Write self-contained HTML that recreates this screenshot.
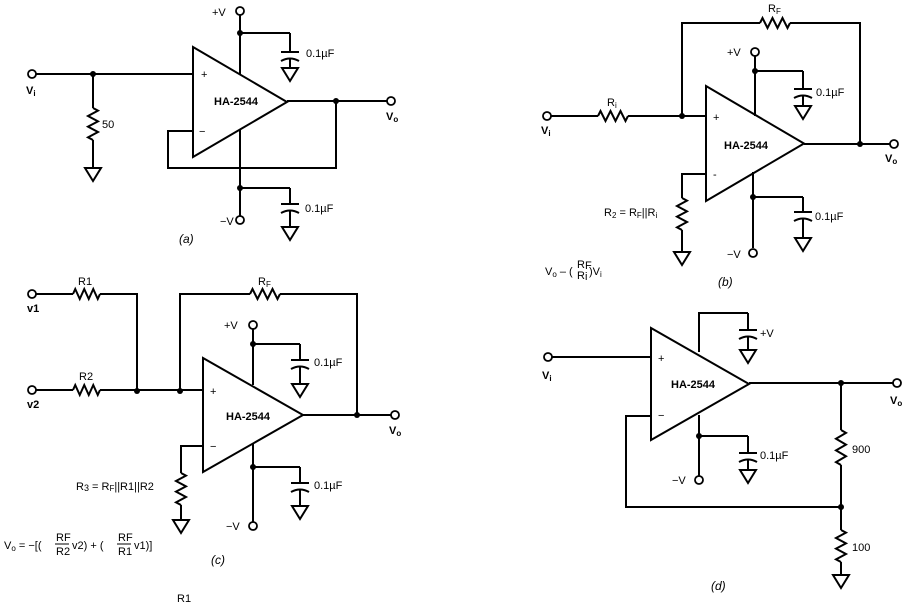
<!DOCTYPE html>
<html><head><meta charset="utf-8"><style>
html,body{margin:0;padding:0;background:#fff;}
svg{display:block;}
text{font-family:"Liberation Sans",sans-serif;font-size:11px;fill:#000;}
.b{font-weight:bold;}
.i{font-style:italic;font-size:12px;}
</style></head><body>
<svg id="s" width="914" height="610" viewBox="0 0 914 610" xmlns="http://www.w3.org/2000/svg">
<g id="g" fill="none" stroke="#000" stroke-width="2"></g>
<g>
<!-- (a) -->
<text x="26" y="94" class="b">V<tspan font-size="8" dy="2">i</tspan></text>
<text x="102" y="128">50</text>
<text x="201" y="78" font-size="10">+</text>
<text x="199" y="135" font-size="11">−</text>
<text x="214" y="105" class="b" font-size="10">HA-2544</text>
<text x="212" y="16">+V</text>
<text x="306" y="57">0.1µF</text>
<text x="305" y="212">0.1µF</text>
<text x="220" y="225">−V</text>
<text x="386" y="120" class="b">V<tspan font-size="8" dy="2">o</tspan></text>
<text x="179" y="243" class="i">(a)</text>
<!-- (b) -->
<text x="541" y="134" class="b">V<tspan font-size="8" dy="2">i</tspan></text>
<text x="607" y="106">R<tspan font-size="8" dy="2">i</tspan></text>
<text x="768" y="12">R<tspan font-size="8" dy="2">F</tspan></text>
<text x="713" y="121" font-size="10">+</text>
<text x="713" y="178" font-size="10">-</text>
<text x="724" y="149" class="b" font-size="10">HA-2544</text>
<text x="727" y="56">+V</text>
<text x="816" y="96">0.1µF</text>
<text x="815" y="220">0.1µF</text>
<text x="727" y="258">−V</text>
<text x="885" y="162" class="b">V<tspan font-size="8" dy="2">o</tspan></text>
<text x="604" y="216">R<tspan font-size="8" dy="2">2</tspan><tspan dy="-2"> = R</tspan><tspan font-size="8" dy="2">F</tspan><tspan dy="-2">||R</tspan><tspan font-size="8" dy="2">i</tspan></text>
<text x="545" y="275">V<tspan font-size="8" dy="2">o</tspan><tspan dy="-2"> – (</tspan></text>
<text x="577" y="268" font-size="8">R<tspan dy="1">F</tspan></text>
<text x="577" y="279" font-size="8">R<tspan dy="1">i</tspan></text>
<text x="589" y="275">)V<tspan font-size="8" dy="2">i</tspan></text>
<text x="718" y="286" class="i">(b)</text>
<!-- (c) -->
<text x="27" y="312" class="b">v1</text>
<text x="78" y="285">R1</text>
<text x="27" y="408" class="b">v2</text>
<text x="79" y="380">R2</text>
<text x="258" y="285">R<tspan font-size="8" dy="2">F</tspan></text>
<text x="210" y="395" font-size="10">+</text>
<text x="210" y="450" font-size="11">−</text>
<text x="226" y="420" class="b" font-size="10">HA-2544</text>
<text x="224" y="329">+V</text>
<text x="314" y="366">0.1µF</text>
<text x="314" y="489">0.1µF</text>
<text x="226" y="530">−V</text>
<text x="389" y="434" class="b">V<tspan font-size="8" dy="2">o</tspan></text>
<text x="76" y="490">R<tspan font-size="9" dy="1">3</tspan><tspan dy="-1">  =  R</tspan><tspan font-size="8" dy="1">F</tspan><tspan dy="-1">||R1||R2</tspan></text>
<text x="4" y="549">V<tspan font-size="8" dy="2">o</tspan><tspan dy="-2">  =  −[(</tspan></text>
<text x="56" y="541" font-size="9">RF</text>
<line x1="55" y1="544" x2="69" y2="544" stroke="#000"/>
<text x="56" y="555" font-size="9">R2</text>
<text x="72" y="549">v2)  +  (</text>
<text x="118" y="541" font-size="9">RF</text>
<line x1="117" y1="544" x2="131" y2="544" stroke="#000"/>
<text x="118" y="555" font-size="9">R1</text>
<text x="134" y="549">v1)]</text>
<text x="211" y="564" class="i">(c)</text>
<text x="177" y="602" font-size="10">R1</text>
<!-- (d) -->
<text x="542" y="379" class="b">V<tspan font-size="8" dy="2">i</tspan></text>
<text x="658" y="362" font-size="10">+</text>
<text x="658" y="419" font-size="10">−</text>
<text x="671" y="388" class="b" font-size="10">HA-2544</text>
<text x="760" y="337">+V</text>
<text x="760" y="459">0.1µF</text>
<text x="672" y="484">−V</text>
<text x="890" y="404" class="b">V<tspan font-size="8" dy="2">o</tspan></text>
<text x="852" y="453">900</text>
<text x="852" y="551">100</text>
<text x="711" y="590" class="i">(d)</text>
</g>
</svg>
<script>
var g=document.getElementById('g'),h='';
function L(p){h+='<polyline points="'+p+'"/>';}
function T(x,y){h+='<circle cx="'+x+'" cy="'+y+'" r="4" fill="#fff" stroke-width="1.8"/>';}
function N(x,y){h+='<circle cx="'+x+'" cy="'+y+'" r="3" fill="#000" stroke="none"/>';}
function RH(x0,x1,y){var n=6,d=(x1-x0)/n,p=x0+','+y;for(var i=0;i<n;i++){p+=' '+(x0+d*(i+0.5))+','+(y+(i%2?5:-5));}p+=' '+x1+','+y;L(p);}
function RV(x,y0,y1){var n=6,d=(y1-y0)/n,p=x+','+y0;for(var i=0;i<n;i++){p+=' '+(x+(i%2?-5:5))+','+(y0+d*(i+0.5));}p+=' '+x+','+y1;L(p);}
function G(x,y){h+='<polygon points="'+(x-8)+','+y+' '+(x+8)+','+y+' '+x+','+(y+13)+'"/>';}
function C(x,y0,yc,yg){L(x+','+y0+' '+x+','+yc);L((x-9)+','+yc+' '+(x+9)+','+yc);h+='<path d="M'+(x-9)+','+(yc+9)+' Q'+x+','+(yc+4)+' '+(x+9)+','+(yc+9)+'"/>';L(x+','+(yc+6)+' '+x+','+yg);G(x,yg);}
function OA(x,yt,yb,xt){h+='<polygon points="'+x+','+yt+' '+x+','+yb+' '+xt+','+((yt+yb)/2)+'"/>';}
// (a)
OA(193,47,157,287);
T(32,74);L('36,74 193,74');N(93,74);L('93,74 93,108');RV(93,108,140);L('93,140 93,168');G(93,168);
L('287,101 387,101');N(336,101);T(391,101);
L('193,131 168,131 168,168 336,168 336,101');
T(240,11);L('240,15 240,74');N(240,33);L('240,33 290,33');C(290,33,52,68);
L('240,130 240,216');N(240,188);T(240,220);L('240,188 290,188');C(290,188,204,227);
// (b)
OA(706,86,201,804);
T(547,116);L('551,116 598,116');RH(598,628,116);L('628,116 706,116');N(682,116);
L('682,116 682,23 760,23');RH(760,790,23);L('790,23 860,23 860,144');
L('804,144 890,144');N(860,144);T(894,144);
T(755,52);L('755,56 755,116');N(755,71);L('755,71 803,71');C(803,71,89,106);
L('706,174 682,174 682,198');RV(682,198,230);L('682,230 682,252');G(682,252);
L('753,172 753,248');N(753,197);T(753,253);L('753,197 803,197');C(803,197,212,238);
// (c)
OA(203,358,472,303);
T(32,294);L('36,294 73,294');RH(73,100,294);L('100,294 137,294 137,391');
T(32,390);L('36,390 73,390');RH(73,100,390);L('100,390 203,390');N(137,391);N(180,391);
L('180,391 180,294 250,294');RH(250,280,294);L('280,294 357,294 357,415');
L('303,415 391,415');N(357,415);T(395,415);
T(253,325);L('253,329 253,385');N(253,344);L('253,344 300,344');C(300,344,360,384);
L('203,446 181,446 181,473');RV(181,473,505);L('181,505 181,520');G(181,520);
L('253,444 253,522');N(253,467);T(253,526);L('253,467 300,467');C(300,467,483,506);
// (d)
OA(651,328,440,749);
T(548,357);L('552,357 651,357');
L('699,352 699,313 748,313');C(748,313,330,350);
L('749,383 893,383');N(841,383);T(897,383);
L('841,383 841,430');RV(841,430,465);L('841,465 841,530');N(841,507);RV(841,530,562);L('841,562 841,575');G(841,575);
L('651,416 626,416 626,507 841,507');
L('699,415 699,476');N(699,436);T(699,480);L('699,436 748,436');C(748,436,453,470);
g.innerHTML=h;
</script>
</body></html>
